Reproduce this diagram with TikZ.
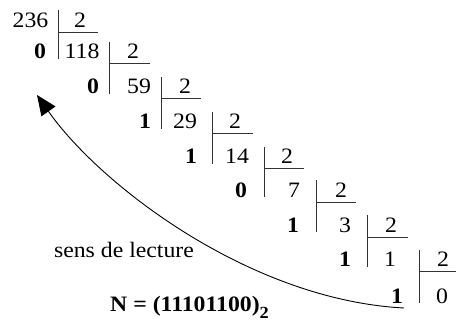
\documentclass[tikz,border=0pt]{standalone}
\usepackage{fontspec}
\setmainfont{Liberation Serif}[FakeStretch=1.08]
\usetikzlibrary{arrows.meta}

\begin{document}
\begin{tikzpicture}[
    x=1pt, y=-1pt,
    num/.style={inner sep=0pt, font=\fontsize{22}{26}\selectfont},
    bit/.style={inner sep=0pt, font=\fontsize{22}{26}\selectfont\bfseries},
    rule/.style={line width=1pt, black!80},
    arr/.style={-{Triangle[length=20pt, width=17pt]}, line width=0.9pt}
  ]
  \useasboundingbox (0,0) rectangle (456,323);

  % Dividends and divisors
  \node[num] (n0) at (30.5, 20) {236};
  \node[num] (d0) at (80, 20) {2};
  \node[num] (d1) at (133, 51.5) {2};
  \node[num] (d2) at (185, 86.5) {2};
  \node[num] (d3) at (235, 121.5) {2};
  \node[num] (d4) at (287, 156.5) {2};
  \node[num] (d5) at (341, 190) {2};
  \node[num] (d6) at (391, 225) {2};
  \node[num] (d7) at (443, 259.5) {2};

  % Quotients
  \node[num] (q1) at (82, 51.5) {118};
  \node[num] (q2) at (139, 86.5) {59};
  \node[num] (q3) at (185, 121.5) {29};
  \node[num] (q4) at (237, 156.5) {14};
  \node[num] (q5) at (294, 190) {7};
  \node[num] (q6) at (345, 225) {3};
  \node[num] (q7) at (390, 259.5) {1};
  \node[num] (q8) at (442, 296) {0};

  % Remainders
  \node[bit] (b1) at (40, 51.5) {0};
  \node[bit] (b2) at (93, 86.5) {0};
  \node[bit] (b3) at (145, 121.5) {1};
  \node[bit] (b4) at (191, 156.5) {1};
  \node[bit] (b5) at (241, 190) {0};
  \node[bit] (b6) at (293, 225) {1};
  \node[bit] (b7) at (345, 259.5) {1};
  \node[bit] (b8) at (397, 296) {1};

  % Division bars
  \foreach \x/\y/\z in {58/20/51.5, 109.6/51.5/86.5, 161.2/86.5/121.5,
      212.8/121.5/156.5, 264.4/156.5/190, 316/190/225,
      367.6/225/259.5, 419.2/259.5/296} {
    \draw[rule] (\x, \y-9.5) -- (\x, \z+7.5);
    \draw[rule] (\x, \y+12.5) -- (\x+40, \y+12.5);
  }

  % Reading direction
  \coordinate (from) at (404, 308);
  \coordinate (to) at (37, 95);
  \draw[arr] (from) .. controls (250, 300) and (100, 185) .. (to);
  \node[num, anchor=base] (sens) at (124, 258) {sens de lecture};

  % Result
  \node[bit, anchor=base west] (res) at (110, 312)
    {N = (11101100)\raisebox{-0.3em}{\fontsize{17}{17}\selectfont 2}};

\end{tikzpicture}
\end{document}
